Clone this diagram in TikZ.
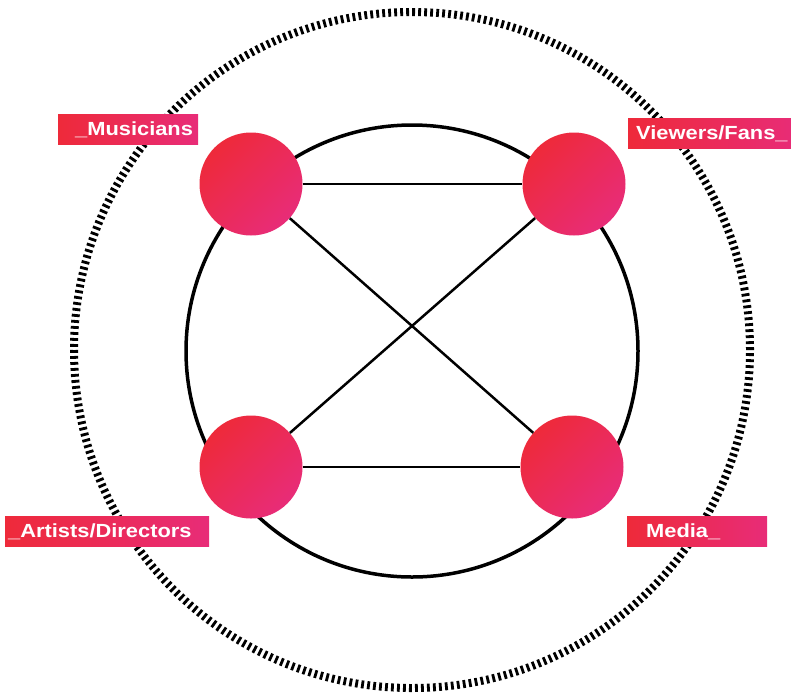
\documentclass[tikz,border=0pt]{standalone}
\usepackage{fontspec}
\newfontfamily\tagfont[FakeStretch=1.15]{Liberation Sans}
\definecolor{hotred}{HTML}{EE2A3A}
\definecolor{hotpink}{HTML}{E82C78}
\tikzset{
  member/.style={circle, minimum size=103pt, inner sep=0pt,
    top color=hotred, bottom color=hotpink, shading angle=45},
  tag/.style={rectangle, left color=hotred, right color=hotpink,
    text=white, font=\tagfont\fontsize{19pt}{19pt}\bfseries\selectfont,
    inner sep=0pt, minimum height=30pt, text height=13.6pt, text depth=0pt,
    align=left, anchor=west},
  link/.style={line width=2.5pt},
}
\begin{document}
\begin{tikzpicture}[x=1pt, y=-1pt]
        \useasboundingbox (0,0) rectangle (791,694);

        % rings
        \draw[line width=8pt, dash pattern=on 2.8pt off 3.2pt] (412,350) circle (338pt);
        \draw[line width=3.5pt] (412,351) circle (226pt);

        % members
        \node[member] (mus) at (251,184) {};
        \node[member] (fans) at (574,184) {};
        \node[member] (art) at (251,467) {};
        \node[member] (med) at (572,467) {};

        \draw[link] (mus) -- (fans);
        \draw[link] (art) -- (med);
        \draw[link] (mus) -- (med);
        \draw[link] (art) -- (fans);

        % tags
        \node[tag, text width=140pt] (musTag) at (58,129) {\hspace*{17pt}\_Musicians};
        \node[tag, text width=170pt] (fansTag) at (628,133) {\hspace*{8pt}Viewers/Fans\_};
        \node[tag, text width=204pt] (artTag) at (5,531) {\hspace*{3pt}\_Artists/Directors};
        \node[tag, text width=140pt] (medTag) at (627,531) {\hspace*{19pt}Media\_};
\end{tikzpicture}
\end{document}
